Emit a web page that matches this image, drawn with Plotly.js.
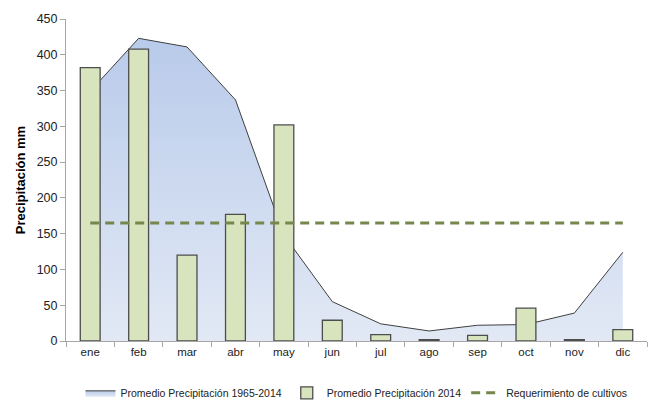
<!DOCTYPE html>
<html><head><meta charset="utf-8">
<script src="https://cdn.plot.ly/plotly-3.0.1.min.js"></script>
<style>body{margin:0;padding:0;background:#fff}#chart{width:648px;height:401px}</style>
</head><body><div id="chart"></div>
<script>
const months = ['ene','feb','mar','abr','may','jun','jul','ago','sep','oct','nov','dic'];
const promedio1965_2014 = [349, 423, 411, 337, 148, 55, 24, 14, 22, 23, 39, 124];
const promedio2014 = [382, 408, 120, 177, 302, 29, 9, 2, 8, 46, 2, 16];
const requerimiento = [165, 165, 165, 165, 165, 165, 165, 165, 165, 165, 165, 165];

const traces = [
  {
    type: 'scatter', mode: 'lines', x: months, y: promedio1965_2014,
    name: 'Promedio Precipitación 1965-2014',
    fill: 'tozeroy',
    fillcolor: '#c9d7ee',
    fillgradient: {type: 'vertical', start: 0, stop: 430,
      colorscale: [[0, '#e2e9f5'], [1, '#b8caea']]},
    line: {color: '#3f3f3f', width: 1}
  },
  {
    type: 'bar', x: months, y: promedio2014, xaxis: 'x2', yaxis: 'y2',
    name: 'Promedio Precipitación 2014',
    width: 0.41,
    marker: {color: '#d7e4bd', line: {color: '#4d4d4d', width: 1.3}}
  },
  {
    type: 'scatter', mode: 'lines', x: months, y: requerimiento, xaxis: 'x2', yaxis: 'y2',
    name: 'Requerimiento de cultivos',
    line: {color: '#75874d', width: 3, dash: '9px,6px'}
  }
];

const layout = {
  width: 648, height: 401,
  margin: {l: 66, r: 1, t: 19, b: 60, autoexpand: false},
  paper_bgcolor: '#fff', plot_bgcolor: '#fff',
  font: {family: 'Liberation Sans, Arial, sans-serif', size: 11, color: '#222'},
  showlegend: true,
  legend: {orientation: 'h', x: 0.5, xanchor: 'center', y: -0.116, yanchor: 'top',
    font: {size: 10.5, color: '#222'}, traceorder: 'normal'},
  xaxis: {
    type: 'category', range: [-0.5, 11.5],
    showline: true, linecolor: '#a6a6a6', linewidth: 1,
    ticks: 'outside', tickson: 'boundaries', ticklen: 5, tickcolor: '#a6a6a6',
    showgrid: false, zeroline: false,
    tickfont: {size: 11.5, color: '#222'}
  },
  yaxis: {
    range: [0, 450], dtick: 50, tick0: 0,
    showline: true, linecolor: '#a6a6a6', linewidth: 1,
    ticks: 'outside', ticklen: 5, tickcolor: '#a6a6a6',
    showgrid: false, zeroline: false,
    tickfont: {size: 12.5, color: '#222'},
    title: {text: 'Precipitación mm', font: {size: 13, color: '#000', weight: 'bold'}, standoff: 8}
  },
  xaxis2: {type: 'category', range: [-0.5, 11.5], overlaying: 'x', visible: false,
    categoryorder: 'array', categoryarray: months},
  yaxis2: {range: [0, 450], overlaying: 'y', visible: false},
  bargap: 0.59
};

Plotly.newPlot('chart', traces, layout, {displayModeBar: false, staticPlot: true});
</script>
</body></html>
